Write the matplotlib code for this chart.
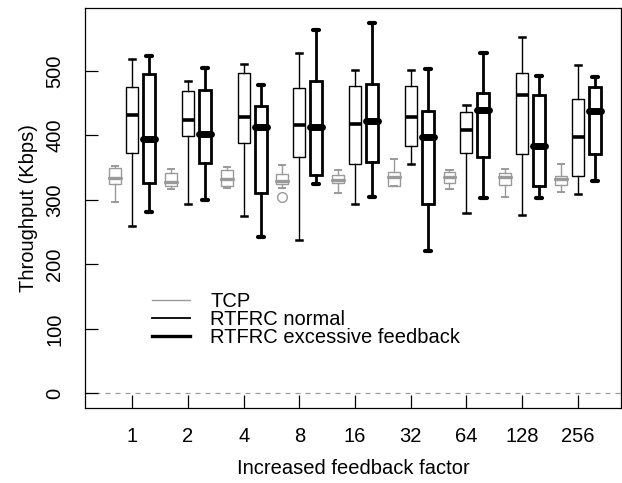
# Throughput boxplots vs increased feedback factor
import matplotlib
matplotlib.use("Agg")
import matplotlib.pyplot as plt
from matplotlib.lines import Line2D

plt.rcParams['font.family'] = ['Liberation Sans', 'DejaVu Sans']

factors = ["1", "2", "4", "8", "16", "32", "64", "128", "256"]

# five number summaries per group: whisker low, q1, median, q3, whisker high
tcp_lo = [297, 317, 318, 318, 311, 322, 317, 305, 313]
tcp_q1 = [324, 321, 321, 325, 326, 322, 327, 323, 323]
tcp_med = [334, 328, 332, 330, 331, 336, 335, 335, 332]
tcp_q3 = [350, 342, 347, 340, 339, 344, 343, 342, 337]
tcp_hi = [353, 348, 351, 354, 346, 364, 346, 348, 355]
tcp_out = [[], [], [], [304], [], [], [], [], []]

nor_lo = [260, 294, 275, 238, 293, 356, 279, 276, 309]
nor_q1 = [372, 399, 389, 366, 356, 383, 372, 371, 337]
nor_med = [431, 424, 428, 416, 417, 428, 408, 463, 397]
nor_q3 = [475, 469, 496, 473, 477, 477, 437, 496, 457]
nor_hi = [519, 485, 510, 528, 502, 502, 447, 553, 509]

exc_lo = [282, 300, 242, 325, 304, 221, 303, 303, 330]
exc_q1 = [327, 358, 311, 338, 359, 293, 366, 322, 371]
exc_med = [395, 402, 413, 413, 423, 397, 440, 383, 438]
exc_q3 = [495, 470, 446, 485, 479, 438, 465, 462, 475]
exc_hi = [523, 505, 478, 563, 574, 503, 527, 492, 490]

series_names = ["TCP", "RTFRC normal", "RTFRC excessive feedback"]


def make_stats(lo, q1, med, q3, hi, out=None):
    stats = []
    for i in range(len(lo)):
        stats.append({"whislo": lo[i], "q1": q1[i], "med": med[i], "q3": q3[i],
                      "whishi": hi[i], "fliers": out[i] if out else []})
    return stats


fig = plt.figure(figsize=(6.22, 4.83), dpi=100)
ax = fig.add_axes([0.1367, 0.1553, 0.8613, 0.8275])

grey = "#9a9a9a"
pos = list(range(1, len(factors) + 1))
w = 0.215
cw = 0.11

# TCP
ax.bxp(make_stats(tcp_lo, tcp_q1, tcp_med, tcp_q3, tcp_hi, tcp_out),
       positions=[p - 0.305 for p in pos], widths=w, capwidths=cw,
       patch_artist=True, manage_ticks=False,
       boxprops=dict(facecolor="white", edgecolor=grey, linewidth=1.0),
       medianprops=dict(color=grey, linewidth=2.4, solid_capstyle="round"),
       whiskerprops=dict(color=grey, linewidth=1.0),
       capprops=dict(color=grey, linewidth=1.4),
       flierprops=dict(marker="o", markerfacecolor="none", markeredgecolor=grey,
                       markersize=7, markeredgewidth=1.0))

# RTFRC normal
ax.bxp(make_stats(nor_lo, nor_q1, nor_med, nor_q3, nor_hi),
       positions=pos, widths=w, capwidths=cw,
       patch_artist=True, manage_ticks=False,
       boxprops=dict(facecolor="white", edgecolor="black", linewidth=1.0),
       medianprops=dict(color="black", linewidth=2.6, solid_capstyle="butt"),
       whiskerprops=dict(color="black", linewidth=1.0),
       capprops=dict(color="black", linewidth=1.8),
       flierprops=dict(marker="o", markerfacecolor="none"))

# RTFRC excessive feedback
ax.bxp(make_stats(exc_lo, exc_q1, exc_med, exc_q3, exc_hi),
       positions=[p + 0.305 for p in pos], widths=w, capwidths=cw,
       patch_artist=True, manage_ticks=False,
       boxprops=dict(facecolor="white", edgecolor="black", linewidth=2.0),
       medianprops=dict(color="black", linewidth=5.0, solid_capstyle="round"),
       whiskerprops=dict(color="black", linewidth=2.0),
       capprops=dict(color="black", linewidth=3.0, solid_capstyle="round"),
       flierprops=dict(marker="o", markerfacecolor="none"))

ax.axhline(0, color=grey, linestyle=(0, (4, 4)), linewidth=0.9, zorder=0)

ax.set_xlim(0.151, 9.77)
ax.set_ylim(-22.5, 597)
ax.set_xticks(pos)
ax.set_xticklabels(factors)
ax.set_yticks([0, 100, 200, 300, 400, 500])
ax.tick_params(axis="both", direction="in", length=9.5, width=0.9, labelsize=14.5)
ax.tick_params(axis="x", pad=14)
ax.tick_params(axis="y", pad=15)
for lab in ax.get_yticklabels():
    lab.set_rotation(90)
    lab.set_va("center")
for s in ax.spines.values():
    s.set_linewidth(0.9)

ax.set_xlabel("Increased feedback factor", fontsize=14.5, labelpad=9)
ax.set_ylabel("Throughput (Kbps)", fontsize=14.5, labelpad=5)

handles = [Line2D([], [], color=grey, linewidth=1.0),
           Line2D([], [], color="black", linewidth=1.3),
           Line2D([], [], color="black", linewidth=2.4)]
ax.legend(handles, series_names, loc="center left", bbox_to_anchor=(0.125, 0.221),
          frameon=False, fontsize=14.5, borderpad=0, borderaxespad=0,
          handlelength=1.9, handletextpad=1.0, labelspacing=-0.05)

fig.savefig("out.png", dpi=100)
